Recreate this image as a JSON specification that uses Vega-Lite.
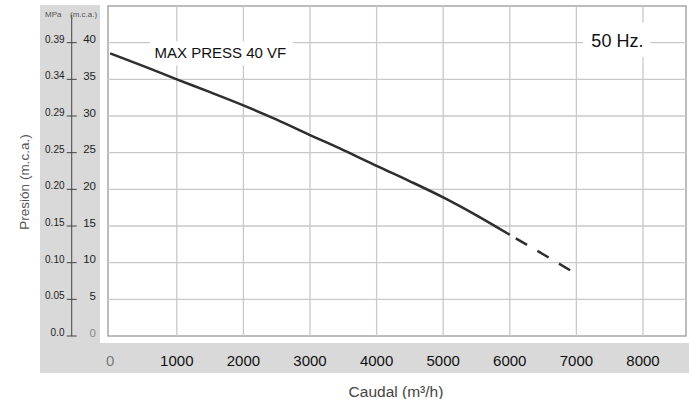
{
  "$schema": "https://vega.github.io/schema/vega-lite/v6.json",
  "width": 578,
  "height": 330,
  "autosize": "none",
  "padding": {"left": 108, "top": 6, "right": 3, "bottom": 63},
  "background": "white",
  "config": {
    "font": "Liberation Sans",
    "view": {"stroke": "#a6a6a6", "strokeWidth": 1.5}
  },
  "datasets": {
    "curva": [
      {"caudal": 0, "presion": 38.55, "tramo": "continuo"},
      {"caudal": 500, "presion": 36.8, "tramo": "continuo"},
      {"caudal": 1000, "presion": 35.0, "tramo": "continuo"},
      {"caudal": 1500, "presion": 33.25, "tramo": "continuo"},
      {"caudal": 2000, "presion": 31.45, "tramo": "continuo"},
      {"caudal": 2500, "presion": 29.5, "tramo": "continuo"},
      {"caudal": 3000, "presion": 27.4, "tramo": "continuo"},
      {"caudal": 3500, "presion": 25.35, "tramo": "continuo"},
      {"caudal": 4000, "presion": 23.2, "tramo": "continuo"},
      {"caudal": 4500, "presion": 21.1, "tramo": "continuo"},
      {"caudal": 5000, "presion": 18.9, "tramo": "continuo"},
      {"caudal": 5500, "presion": 16.45, "tramo": "continuo"},
      {"caudal": 6000, "presion": 13.8, "tramo": "continuo"},
      {"caudal": 6000, "presion": 13.8, "tramo": "extrapolado"},
      {"caudal": 6500, "presion": 11.15, "tramo": "extrapolado"},
      {"caudal": 7000, "presion": 8.45, "tramo": "extrapolado"}
    ],
    "marcasX": [
      {"caudal": 0}, {"caudal": 1000}, {"caudal": 2000}, {"caudal": 3000}, {"caudal": 4000},
      {"caudal": 5000}, {"caudal": 6000}, {"caudal": 7000}, {"caudal": 8000}
    ],
    "niveles": [
      {"presion": 0, "mpa": "0.0"}, {"presion": 5, "mpa": "0.05"}, {"presion": 10, "mpa": "0.10"},
      {"presion": 15, "mpa": "0.15"}, {"presion": 20, "mpa": "0.20"}, {"presion": 25, "mpa": "0.25"},
      {"presion": 30, "mpa": "0.29"}, {"presion": 35, "mpa": "0.34"}, {"presion": 40, "mpa": "0.39"}
    ],
    "anotaciones": [
      {"texto": "MAX PRESS 40 VF", "caudal": 665, "presion": 37.9},
      {"texto": "50 Hz.", "caudal": 7225, "presion": 39.45}
    ]
  },
  "layer": [
    {
      "data": {"values": [{}]},
      "mark": {"type": "rect", "color": "#d9d9d9"},
      "encoding": {
        "x": {"datum": -1054, "type": "quantitative", "scale": {"domain": [-33, 8646], "nice": false, "zero": false}, "axis": null},
        "x2": {"datum": 8700},
        "y": {"datum": -0.955, "type": "quantitative", "scale": {"domain": [0, 45], "nice": false, "zero": false}, "axis": null},
        "y2": {"datum": -5.05}
      }
    },
    {
      "data": {"values": [{}]},
      "mark": {"type": "rect", "color": "#d9d9d9"},
      "encoding": {
        "x": {"datum": -1054, "type": "quantitative", "scale": {"domain": [-33, 8646], "nice": false, "zero": false}, "axis": null},
        "x2": {"datum": -153},
        "y": {"datum": 45.14, "type": "quantitative", "scale": {"domain": [0, 45], "nice": false, "zero": false}, "axis": null},
        "y2": {"datum": -0.955}
      }
    },
    {
      "data": {"name": "marcasX"},
      "transform": [{"filter": "datum.caudal > 0"}],
      "mark": {"type": "rule", "color": "#c9c9c9", "strokeWidth": 1.3},
      "encoding": {
        "x": {"field": "caudal", "type": "quantitative", "scale": {"domain": [-33, 8646], "nice": false, "zero": false}, "axis": null}
      }
    },
    {
      "data": {"name": "niveles"},
      "transform": [{"filter": "datum.presion > 0"}],
      "mark": {"type": "rule", "color": "#c9c9c9", "strokeWidth": 1.3},
      "encoding": {
        "y": {"field": "presion", "type": "quantitative", "scale": {"domain": [0, 45], "nice": false, "zero": false}, "axis": null}
      }
    },
    {
      "data": {"values": [{}]},
      "mark": {"type": "rule", "color": "#444444", "strokeWidth": 1},
      "encoding": {
        "x": {"datum": -578, "type": "quantitative", "scale": {"domain": [-33, 8646], "nice": false, "zero": false}, "axis": null},
        "y": {"datum": 0, "type": "quantitative", "scale": {"domain": [0, 45], "nice": false, "zero": false}, "axis": null},
        "y2": {"datum": 43.77}
      }
    },
    {
      "data": {"name": "niveles"},
      "mark": {"type": "rule", "color": "#444444", "strokeWidth": 1},
      "encoding": {
        "x": {"datum": -653, "type": "quantitative", "scale": {"domain": [-33, 8646], "nice": false, "zero": false}, "axis": null},
        "x2": {"datum": -503},
        "y": {"field": "presion", "type": "quantitative", "scale": {"domain": [0, 45], "nice": false, "zero": false}, "axis": null}
      }
    },
    {
      "data": {"name": "niveles"},
      "mark": {"type": "text", "fontSize": 10, "align": "right", "baseline": "alphabetic", "color": "#222222"},
      "encoding": {
        "x": {"datum": -686, "type": "quantitative", "scale": {"domain": [-33, 8646], "nice": false, "zero": false}, "axis": null},
        "y": {"field": "presion", "type": "quantitative", "scale": {"domain": [0, 45], "nice": false, "zero": false}, "axis": null},
        "text": {"field": "mpa"}
      }
    },
    {
      "data": {"name": "niveles"},
      "mark": {"type": "text", "fontSize": 11.5, "align": "right", "baseline": "alphabetic", "dy": 0.5},
      "encoding": {
        "x": {"datum": -213, "type": "quantitative", "scale": {"domain": [-33, 8646], "nice": false, "zero": false}, "axis": null},
        "y": {"field": "presion", "type": "quantitative", "scale": {"domain": [0, 45], "nice": false, "zero": false}, "axis": null},
        "text": {"field": "presion", "format": "d"},
        "color": {"condition": {"test": "datum.presion == 0", "value": "#888888"}, "value": "#222222"}
      }
    },
    {
      "data": {"values": [{}]},
      "mark": {"type": "text", "fontSize": 8, "align": "left", "baseline": "alphabetic", "color": "#555555", "text": "MPa"},
      "encoding": {
        "x": {"datum": -979, "type": "quantitative", "scale": {"domain": [-33, 8646], "nice": false, "zero": false}, "axis": null},
        "y": {"datum": 43.5, "type": "quantitative", "scale": {"domain": [0, 45], "nice": false, "zero": false}, "axis": null}
      }
    },
    {
      "data": {"values": [{}]},
      "mark": {"type": "text", "fontSize": 8, "align": "left", "baseline": "alphabetic", "color": "#555555", "text": "(m.c.a.)"},
      "encoding": {
        "x": {"datum": -604, "type": "quantitative", "scale": {"domain": [-33, 8646], "nice": false, "zero": false}, "axis": null},
        "y": {"datum": 43.5, "type": "quantitative", "scale": {"domain": [0, 45], "nice": false, "zero": false}, "axis": null}
      }
    },
    {
      "data": {"values": [{}]},
      "mark": {"type": "text", "fontSize": 13.5, "align": "center", "baseline": "middle", "angle": 270, "color": "#555555", "text": "Presión (m.c.a.)"},
      "encoding": {
        "x": {"datum": -1279, "type": "quantitative", "scale": {"domain": [-33, 8646], "nice": false, "zero": false}, "axis": null},
        "y": {"datum": 21.0, "type": "quantitative", "scale": {"domain": [0, 45], "nice": false, "zero": false}, "axis": null}
      }
    },
    {
      "data": {"name": "marcasX"},
      "mark": {"type": "text", "fontSize": 15, "align": "center", "baseline": "alphabetic"},
      "encoding": {
        "x": {"field": "caudal", "type": "quantitative", "scale": {"domain": [-33, 8646], "nice": false, "zero": false}, "axis": null},
        "y": {"datum": -4.09, "type": "quantitative", "scale": {"domain": [0, 45], "nice": false, "zero": false}, "axis": null},
        "text": {"field": "caudal", "format": "d"},
        "color": {"condition": {"test": "datum.caudal == 0", "value": "#7a7a7a"}, "value": "#111111"}
      }
    },
    {
      "data": {"values": [{}]},
      "mark": {"type": "text", "fontSize": 15.5, "align": "center", "baseline": "alphabetic", "color": "#444444", "text": "Caudal (m³/h)"},
      "encoding": {
        "x": {"datum": 4291, "type": "quantitative", "scale": {"domain": [-33, 8646], "nice": false, "zero": false}, "axis": null},
        "y": {"datum": -8.32, "type": "quantitative", "scale": {"domain": [0, 45], "nice": false, "zero": false}, "axis": null}
      }
    },
    {
      "data": {"values": [{}]},
      "mark": {"type": "rect", "color": "white"},
      "encoding": {
        "x": {"datum": 598, "type": "quantitative", "scale": {"domain": [-33, 8646], "nice": false, "zero": false}, "axis": null},
        "x2": {"datum": 2745},
        "y": {"datum": 36.9, "type": "quantitative", "scale": {"domain": [0, 45], "nice": false, "zero": false}, "axis": null},
        "y2": {"datum": 40.2}
      }
    },
    {
      "data": {"values": [{}]},
      "mark": {"type": "rect", "color": "white"},
      "encoding": {
        "x": {"datum": 7100, "type": "quantitative", "scale": {"domain": [-33, 8646], "nice": false, "zero": false}, "axis": null},
        "x2": {"datum": 8110},
        "y": {"datum": 38.05, "type": "quantitative", "scale": {"domain": [0, 45], "nice": false, "zero": false}, "axis": null},
        "y2": {"datum": 42.7}
      }
    },
    {
      "data": {"name": "curva"},
      "transform": [{"filter": "datum.tramo == 'continuo'"}],
      "mark": {"type": "line", "color": "#2e2e2e", "strokeWidth": 2.5, "interpolate": "monotone"},
      "encoding": {
        "x": {"field": "caudal", "type": "quantitative", "scale": {"domain": [-33, 8646], "nice": false, "zero": false}, "axis": null},
        "y": {"field": "presion", "type": "quantitative", "scale": {"domain": [0, 45], "nice": false, "zero": false}, "axis": null}
      }
    },
    {
      "data": {"name": "curva"},
      "transform": [{"filter": "datum.tramo == 'extrapolado'"}],
      "mark": {"type": "line", "color": "#2e2e2e", "strokeWidth": 2.5, "interpolate": "monotone", "strokeDash": [13, 12], "strokeDashOffset": 18},
      "encoding": {
        "x": {"field": "caudal", "type": "quantitative", "scale": {"domain": [-33, 8646], "nice": false, "zero": false}, "axis": null},
        "y": {"field": "presion", "type": "quantitative", "scale": {"domain": [0, 45], "nice": false, "zero": false}, "axis": null}
      }
    },
    {
      "data": {"name": "anotaciones"},
      "transform": [{"filter": "datum.texto == 'MAX PRESS 40 VF'"}],
      "mark": {"type": "text", "fontSize": 15, "align": "left", "baseline": "alphabetic", "color": "#111111"},
      "encoding": {
        "x": {"field": "caudal", "type": "quantitative", "scale": {"domain": [-33, 8646], "nice": false, "zero": false}, "axis": null},
        "y": {"field": "presion", "type": "quantitative", "scale": {"domain": [0, 45], "nice": false, "zero": false}, "axis": null},
        "text": {"field": "texto"}
      }
    },
    {
      "data": {"name": "anotaciones"},
      "transform": [{"filter": "datum.texto == '50 Hz.'"}],
      "mark": {"type": "text", "fontSize": 18, "align": "left", "baseline": "alphabetic", "color": "#111111"},
      "encoding": {
        "x": {"field": "caudal", "type": "quantitative", "scale": {"domain": [-33, 8646], "nice": false, "zero": false}, "axis": null},
        "y": {"field": "presion", "type": "quantitative", "scale": {"domain": [0, 45], "nice": false, "zero": false}, "axis": null},
        "text": {"field": "texto"}
      }
    }
  ]
}
